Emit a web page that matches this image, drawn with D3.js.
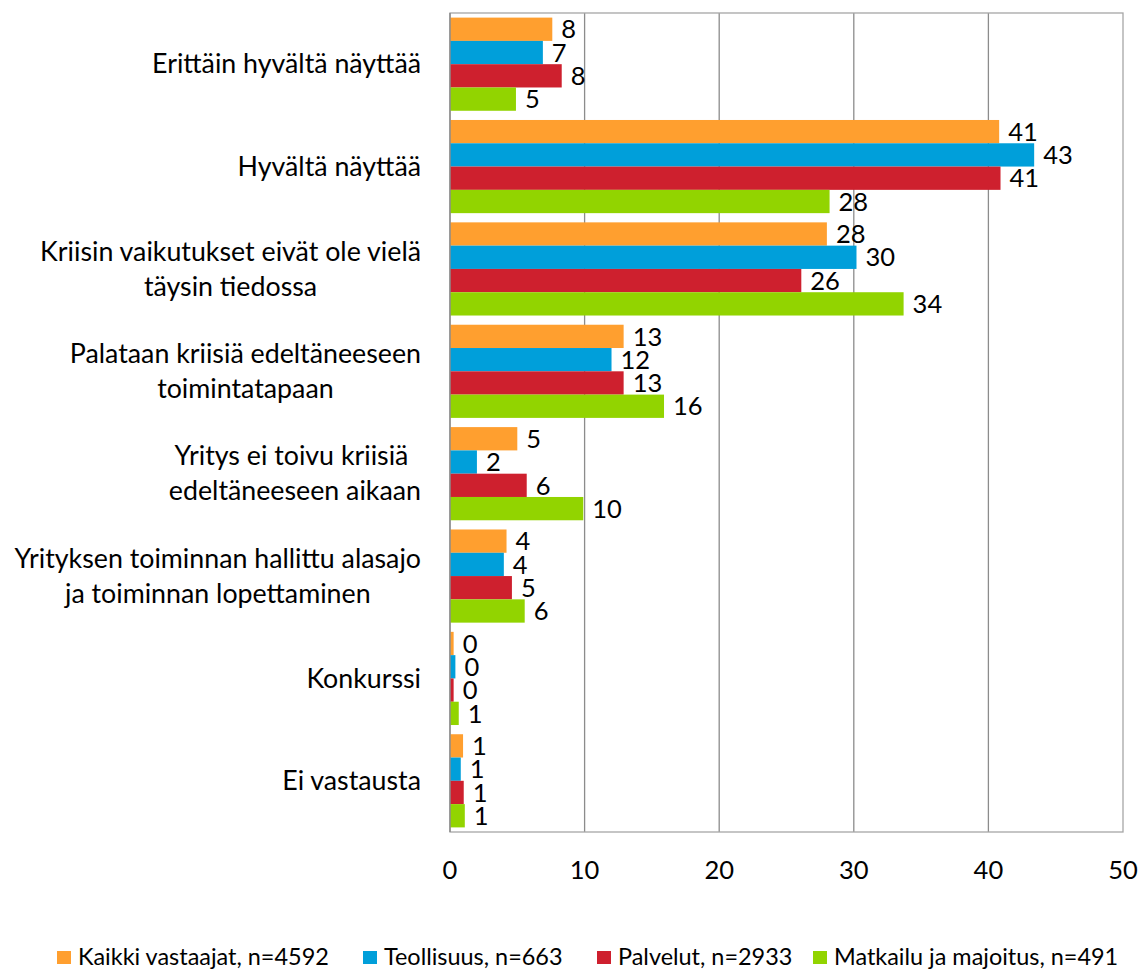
<!DOCTYPE html>
<html><head><meta charset="utf-8">
<script src="https://cdn.jsdelivr.net/npm/d3@7"></script>
<style>body{margin:0;background:#fff}svg{display:block}</style>
</head><body>
<script>
const categories = [
  ["Erittäin hyvältä näyttää"],
  ["Hyvältä näyttää"],
  ["Kriisin vaikutukset eivät ole vielä", "täysin tiedossa"],
  ["Palataan kriisiä edeltäneeseen", "toimintatapaan"],
  ["Yritys ei toivu kriisiä ", "edeltäneeseen aikaan"],
  ["Yrityksen toiminnan hallittu alasajo", "ja toiminnan lopettaminen"],
  ["Konkurssi"],
  ["Ei vastausta"]
];
const seriesNames = ["Kaikki vastaajat, n=4592", "Teollisuus, n=663", "Palvelut, n=2933", "Matkailu ja majoitus, n=491"];
const seriesColors = ["#FF9F2F", "#009FDA", "#CE202E", "#92D400"];
const kaikki = [7.6, 40.8, 28.0, 12.9, 5.0, 4.2, 0.27, 0.97];
const teollisuus = [6.9, 43.4, 30.2, 12.0, 2.0, 4.0, 0.4, 0.8];
const palvelut = [8.3, 40.9, 26.1, 12.9, 5.7, 4.6, 0.27, 1.02];
const matkailu = [4.9, 28.2, 33.7, 15.9, 9.9, 5.55, 0.65, 1.1];
const xTicks = [0, 10, 20, 30, 40, 50];

const series = [kaikki, teollisuus, palvelut, matkailu];
const W = 1141, H = 969;
const mLeft = 450, mRight = 1123, mTop = 13, mBottom = 832;
const font = "Lato, 'Open Sans', sans-serif";

const svg = d3.select("body").append("svg").attr("width", W).attr("height", H);

// fit a font size so that a sample string has a target width
function fitSize(sample, target) {
  const t = svg.append("text").attr("font-family", font).attr("font-size", 100).text(sample);
  const w = t.node().getComputedTextLength();
  t.remove();
  return 100 * target / w;
}
const catSize = fitSize("Erittäin hyvältä näyttää", 269);
const legSize = fitSize("Kaikki vastaajat, n=4592", 251);
const numSize = 25.5;

const x = d3.scaleLinear().domain([0, 50]).range([mLeft, mRight]);
const y0 = d3.scaleBand().domain(d3.range(categories.length)).range([mTop, mBottom]).paddingInner(0.09).paddingOuter(0.045);
const y1 = d3.scaleBand().domain(d3.range(series.length)).range([0, y0.bandwidth()]);

// gridlines
svg.append("g").selectAll("line").data(xTicks.slice(1, -1)).join("line")
  .attr("x1", d => x(d)).attr("x2", d => x(d)).attr("y1", mTop).attr("y2", mBottom)
  .attr("stroke", "#8c8c8c").attr("stroke-width", 1.3);
// frame
svg.append("rect").attr("x", mLeft).attr("y", mTop).attr("width", mRight - mLeft).attr("height", mBottom - mTop)
  .attr("fill", "none").attr("stroke", "#a6a6a6").attr("stroke-width", 1.3);

// bars
const g = svg.append("g");
series.forEach((vals, si) => {
  g.append("g").selectAll("rect").data(vals).join("rect")
    .attr("x", x(0)).attr("y", (d, i) => y0(i) + y1(si))
    .attr("width", d => x(d) - x(0)).attr("height", y1.bandwidth())
    .attr("fill", seriesColors[si]);
  g.append("g").selectAll("text").data(vals).join("text")
    .attr("x", d => x(d) + 9).attr("y", (d, i) => y0(i) + y1(si) + y1.bandwidth() / 2)
    .attr("dy", "0.36em").attr("font-family", font).attr("font-size", numSize).attr("fill", "#000")
    .text(d => d3.format(".0f")(d));
});
// axis line
svg.append("line").attr("x1", mLeft).attr("x2", mLeft).attr("y1", mTop).attr("y2", mBottom).attr("stroke", "#8c8c8c").attr("stroke-width", 1.5);

// x tick labels
svg.append("g").selectAll("text").data(xTicks).join("text")
  .attr("x", d => x(d)).attr("y", 870).attr("dy", "0.36em").attr("text-anchor", "middle")
  .attr("font-family", font).attr("font-size", numSize).text(d => d);

// category labels
const catG = svg.append("g");
categories.forEach((lines, i) => {
  const t = catG.append("text").attr("font-family", font).attr("font-size", catSize).attr("text-anchor", "middle");
  const cy = y0(i) + y0.bandwidth() / 2;
  const lh = 35;
  lines.forEach((l, k) => {
    t.append("tspan").attr("y", cy + (k - (lines.length - 1) / 2) * lh).attr("dy", "0.34em").text(l);
  });
  const widths = [];
  t.selectAll("tspan").each(function () { widths.push(this.getComputedTextLength()); });
  const mw = d3.max(widths);
  t.selectAll("tspan").attr("x", 421 - mw / 2);
});

// legend
const legX = [57, 363, 597, 813];
const lg = svg.append("g");
seriesNames.forEach((n, i) => {
  lg.append("rect").attr("x", legX[i]).attr("y", 951).attr("width", 14).attr("height", 13).attr("fill", seriesColors[i]);
  lg.append("text").attr("x", legX[i] + 21).attr("y", 957).attr("dy", "0.36em")
    .attr("font-family", font).attr("font-size", legSize).text(n);
});
</script>
</body></html>
